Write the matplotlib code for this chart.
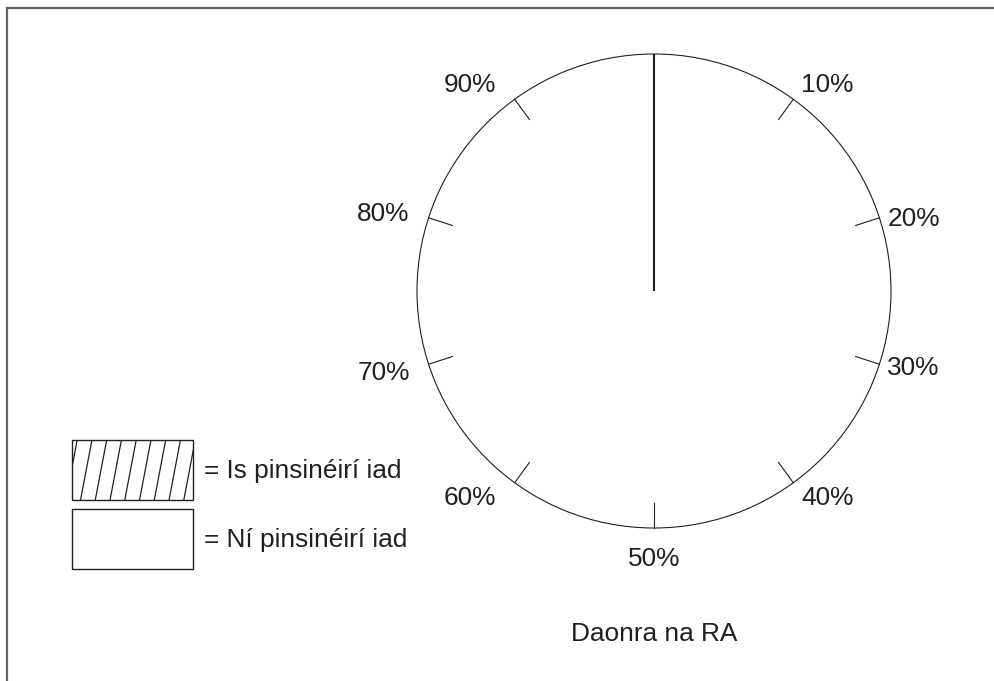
import numpy as np
import matplotlib
matplotlib.use("Agg")
import matplotlib.pyplot as plt
from matplotlib.patches import Rectangle, Wedge
from matplotlib.lines import Line2D
from matplotlib.legend_handler import HandlerBase

plt.rcParams['font.family'] = ['Liberation Sans', 'DejaVu Sans']

# data: blank template pie, pensioners share not filled in yet
categories = ["Is pinsinéirí iad", "Ní pinsinéirí iad"]
shares = [0, 100]
legend_hatches = ["/", ""]
tick_percents = [10, 20, 30, 40, 50, 60, 70, 80, 90]
tick_labels = ["10%", "20%", "30%", "40%", "50%", "60%", "70%", "80%", "90%"]
caption = "Daonra na RA"

TXT = "#231f20"
W, H = 994, 681
CX, CY, R = 654, H - 291, 237
FS = 18.9


class SteepHatch(HandlerBase):
    """legend box with steep diagonal hatching like the printed key"""
    def create_artists(self, legend, orig_handle, xdescent, ydescent,
                       width, height, fontsize, trans):
        x0, y0 = -xdescent, -ydescent
        box = Rectangle((x0, y0), width, height, fc="white", ec=TXT,
                        lw=1.0, transform=trans)
        arts = [box]
        if orig_handle.get_gid() == "/":
            lean = height * 0.19
            step = width / 8.2
            for xs in np.arange(x0 - lean + step * 0.35, x0 + width, step):
                ln = Line2D([xs, xs + lean], [y0, y0 + height], color=TXT,
                            lw=0.9, transform=trans)
                ln.set_clip_path(box)
                arts.append(ln)
        return arts


fig = plt.figure(figsize=(W / 100, H / 100), dpi=100)
ax = fig.add_axes([0, 0, 1, 1])

wedges, _ = ax.pie(shares, center=(CX, CY), radius=R, startangle=90,
                   counterclock=False, colors=["white", "white"],
                   wedgeprops=dict(edgecolor=TXT, linewidth=0.8), frame=True)
for w, h in zip(wedges, legend_hatches):
    w.set_gid(h)

# radial boundary lines between the slices
bounds = np.unique(np.mod(90 - 3.6 * np.cumsum([0] + shares), 360))
for b in bounds:
    a = np.deg2rad(b)
    ax.plot([CX, CX + R * np.cos(a)], [CY, CY + R * np.sin(a)],
            color=TXT, lw=1.5, solid_capstyle="butt")

# tick marks and percent labels round the rim
for p, lab in zip(tick_percents, tick_labels):
    a = np.deg2rad(90 - 3.6 * p)
    ux, uy = np.cos(a), np.sin(a)
    rx, ry = CX + R * ux, CY + R * uy
    ax.plot([rx, CX + (R - 25) * ux], [ry, CY + (R - 25) * uy],
            color=TXT, lw=0.8)
    if ux > 0.1:
        ha, tx = "left", rx + 8
    elif ux < -0.1:
        ha, tx = "right", rx - 19
    else:
        ha, tx = "center", rx
    if ha == "center":
        va, ty = "top", ry - 19
    elif uy > 0.5:
        va, ty = "baseline", ry + 7
    elif uy < -0.5:
        va, ty = "top", ry - 3
    else:
        va, ty = "center", ry - 2.5 + uy * (19 if ux < 0 else 3)
    ax.text(tx, ty, lab, fontsize=FS, color=TXT, ha=ha, va=va)

ax.text(CX, H - 634, caption, fontsize=FS, color=TXT, ha="center", va="center")

# frame lines (only top and left show in the scan)
ax.plot([6.5, 6.5, W], [0, H - 7.5, H - 7.5], color="#606060", lw=1.6,
        clip_on=False, solid_joinstyle="miter")

px = FS / 72 * 100
leg = ax.legend(wedges, ["= " + c for c in categories], loc="upper left",
                bbox_to_anchor=(72 / W, 1 - 440 / H), bbox_transform=fig.transFigure,
                frameon=False, fontsize=FS, borderpad=0, borderaxespad=0,
                handlelength=121 / px, handleheight=3.15,
                labelspacing=9 / px, handletextpad=11 / px,
                handler_map={Wedge: SteepHatch()})
for t in leg.get_texts():
    t.set_color(TXT)

ax.set_xlim(0, W)
ax.set_ylim(0, H)
ax.set_aspect("auto")
ax.axis("off")

fig.savefig("out.png", dpi=100, facecolor="white")
